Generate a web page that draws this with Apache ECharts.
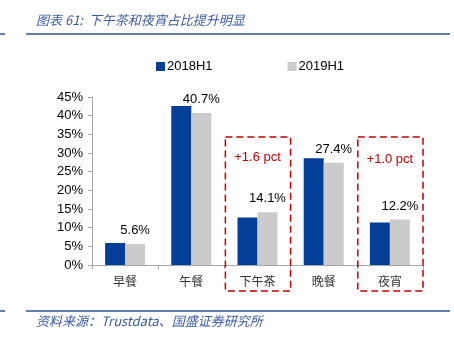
<!DOCTYPE html>
<html><head><meta charset="utf-8">
<script src="https://cdn.jsdelivr.net/npm/echarts@6/dist/echarts.min.js"></script>
<style>html,body{margin:0;padding:0;background:#fff}#c{width:454px;height:339px}</style>
</head><body><div id="c"></div>
<script>
const categories = ['早餐', '午餐', '下午茶', '晚餐', '夜宵'];
const series2018 = [5.9, 42.6, 12.7, 28.6, 11.4];
const series2019 = [5.6, 40.7, 14.1, 27.4, 12.2];
const seriesNames = ['2018H1', '2019H1'];
const yTicks = [0, 5, 10, 15, 20, 25, 30, 35, 40, 45];
const highlightCats = ['下午茶', '夜宵'];
const highlightTexts = ['+1.6 pct', '+1.0 pct'];
const boxTopValue = 34.3;
const titleText = '图表 61:  下午茶和夜宵占比提升明显';
const sourceText = '资料来源：Trustdata、国盛证券研究所';

const chart = echarts.init(document.getElementById('c'), null, {renderer: 'canvas'});
const BLUE = '#033F98', GRAY = '#CBCBCB', RED = '#C00000', NAVY = '#2E5597';
const baseFont = 'Arial, "Liberation Sans", sans-serif';
chart.setOption({
  animation: false,
  textStyle: {fontFamily: baseFont},
  grid: {left: 92, right: 31, top: 97, bottom: 74, containLabel: false},
  legend: {
    left: 151, top: 55, itemWidth: 9, itemHeight: 9, itemGap: 75,
    icon: 'rect',
    textStyle: {fontSize: 13, color: '#000', fontFamily: baseFont, padding: [0,0,0,-3]},
    data: seriesNames
  },
  xAxis: {
    type: 'category', data: categories,
    axisLine: {lineStyle: {color: '#A6A6A6', width: 1}},
    axisTick: {show: true, length: 4, lineStyle: {color: '#A6A6A6'}},
    axisLabel: {fontSize: 12, color: '#333', margin: 10, fontFamily: '"Noto Sans CJK SC", sans-serif'}
  },
  yAxis: {
    type: 'value', min: yTicks[0], max: yTicks[yTicks.length-1], interval: 5,
    splitLine: {show: false},
    axisLine: {show: true, lineStyle: {color: '#A6A6A6'}},
    axisTick: {show: true, inside: false, length: 4, lineStyle: {color: '#A6A6A6'}},
    axisLabel: {fontSize: 13, color: '#000', margin: 9, formatter: v => v + '%'}
  },
  series: [
    {name: seriesNames[0], type: 'bar', data: series2018, barWidth: 20, barGap: '0%',
     itemStyle: {color: BLUE}},
    {name: seriesNames[1], type: 'bar', data: series2019, barWidth: 20,
     itemStyle: {color: GRAY},
     label: {show: true, position: 'top', distance: 7, fontSize: 13, color: '#000',
             formatter: p => p.value.toFixed(1) + '%'}}
  ]
});

function buildGraphics() {
  const g = [];
  const band = chart.convertToPixel({xAxisIndex: 0}, categories[1]) - chart.convertToPixel({xAxisIndex: 0}, categories[0]);
  const yTop = chart.convertToPixel({yAxisIndex: 0}, boxTopValue);
  const y0 = chart.convertToPixel({yAxisIndex: 0}, 0);
  highlightCats.forEach((c, i) => {
    const cx = chart.convertToPixel({xAxisIndex: 0}, c);
    g.push({type: 'rect', shape: {x: cx - band/2 + 1, y: yTop, width: band - 1, height: y0 + 26 - yTop},
      style: {fill: 'none', stroke: RED, lineWidth: 1.5, lineDash: [7, 4]}, z: 10});
    g.push({type: 'text', x: cx, y: yTop + 20 + i*2, style: {text: highlightTexts[i], fill: RED,
      font: '13px Arial, "Liberation Sans", sans-serif', textAlign: 'center', textVerticalAlign: 'middle'}, z: 10});
  });
  [34, 311].forEach(y => {
    g.push({type: 'line', shape: {x1: 0, y1: y, x2: 5, y2: y}, style: {stroke: NAVY, lineWidth: 1.5}});
    g.push({type: 'line', shape: {x1: 26, y1: y, x2: 450, y2: y}, style: {stroke: NAVY, lineWidth: 1.5}});
  });
  g.push({type: 'text', x: 36, y: 20, style: {text: titleText, fill: '#3A5BA8',
    font: 'italic 13px "Noto Sans CJK SC", sans-serif', textVerticalAlign: 'middle'}});
  g.push({type: 'text', x: 36, y: 321, style: {text: sourceText, fill: '#3A5BA8',
    font: 'italic 13px "Noto Sans CJK SC", sans-serif', textVerticalAlign: 'middle'}});
  return g;
}
chart.setOption({graphic: buildGraphics()});
</script></body></html>
